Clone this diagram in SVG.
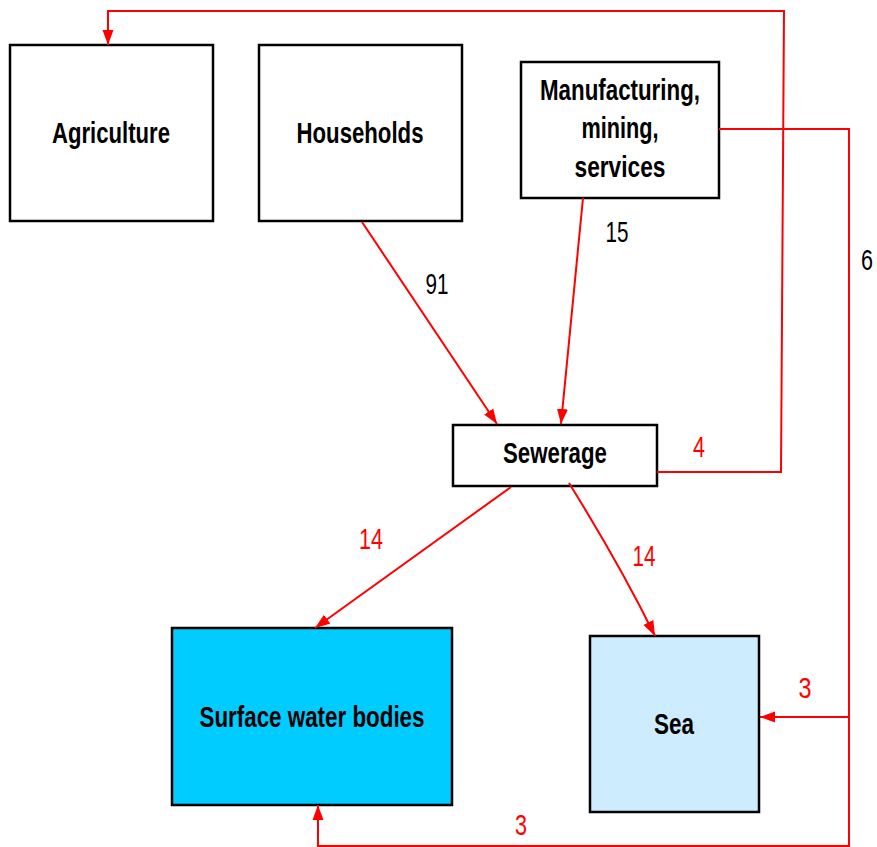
<svg xmlns="http://www.w3.org/2000/svg" width="877" height="847" viewBox="0 0 877 847">
<style>
.box{stroke:#000;stroke-width:2.5}
.lbl{font-family:"Liberation Sans",Arial,sans-serif;font-weight:bold;font-size:29px;fill:#000}
.num{font-family:"Liberation Sans",Arial,sans-serif;font-size:30px}
.red{fill:#ff0000}
.blk{fill:#000}
.con{fill:none;stroke:#ff0000;stroke-width:2}
</style>
<defs>
<marker id="arr" markerUnits="userSpaceOnUse" markerWidth="16" markerHeight="12" refX="15" refY="6" orient="auto">
<path d="M0,0.5 L15,6 L0,11.5 z" fill="#ff0000"/>
</marker>
</defs>
<rect width="877" height="847" fill="#fff"/>
<g id="agriculture">
<rect class="box" x="10" y="45" width="203" height="176" fill="#fff"/>
<text class="lbl" x="111" y="143" text-anchor="middle" textLength="118" lengthAdjust="spacingAndGlyphs">Agriculture</text>
</g>
<g id="households">
<rect class="box" x="259" y="45" width="203" height="176" fill="#fff"/>
<text class="lbl" x="360" y="143" text-anchor="middle" textLength="127" lengthAdjust="spacingAndGlyphs">Households</text>
</g>
<g id="manufacturing">
<rect class="box" x="521" y="62" width="198" height="136" fill="#fff"/>
<text class="lbl" x="620" y="100" text-anchor="middle" textLength="160" lengthAdjust="spacingAndGlyphs">Manufacturing,</text>
<text class="lbl" x="620" y="138" text-anchor="middle" textLength="77" lengthAdjust="spacingAndGlyphs">mining,</text>
<text class="lbl" x="620" y="177" text-anchor="middle" textLength="91" lengthAdjust="spacingAndGlyphs">services</text>
</g>
<g id="sewerage">
<rect class="box" x="453" y="425" width="204" height="61" fill="#fff"/>
<text class="lbl" x="555" y="463" text-anchor="middle" textLength="104" lengthAdjust="spacingAndGlyphs">Sewerage</text>
</g>
<g id="surface">
<rect class="box" x="172" y="628" width="280" height="177" fill="#00ccff"/>
<text class="lbl" x="312" y="727" text-anchor="middle" textLength="225" lengthAdjust="spacingAndGlyphs">Surface water bodies</text>
</g>
<g id="sea">
<rect class="box" x="590" y="636" width="169" height="176" fill="#cdedff"/>
<text class="lbl" x="674" y="734" text-anchor="middle" textLength="40" lengthAdjust="spacingAndGlyphs">Sea</text>
</g>
<g id="connectors">
<path class="con" d="M362,222 L497,424" marker-end="url(#arr)"/>
<path class="con" d="M583,198 L561,424" marker-end="url(#arr)"/>
<path class="con" d="M511,487 L315,628" marker-end="url(#arr)"/>
<path class="con" d="M569,483 Q620,565 655,636" marker-end="url(#arr)"/>
<path class="con" d="M657,472 H781 L784,11 H108 V45" marker-end="url(#arr)"/>
<path class="con" d="M719,129 H849 V846 H318 V805" marker-end="url(#arr)"/>
<path class="con" d="M849,717 H760" marker-end="url(#arr)"/>
</g>
<g id="labels">
<text class="num blk" x="437" y="294" text-anchor="middle" textLength="23" lengthAdjust="spacingAndGlyphs">91</text>
<text class="num blk" x="617" y="242" text-anchor="middle" textLength="23" lengthAdjust="spacingAndGlyphs">15</text>
<text class="num blk" x="867" y="270" text-anchor="middle" textLength="12" lengthAdjust="spacingAndGlyphs">6</text>
<text class="num red" x="699" y="457" text-anchor="middle" textLength="12" lengthAdjust="spacingAndGlyphs">4</text>
<text class="num red" x="371" y="549" text-anchor="middle" textLength="24" lengthAdjust="spacingAndGlyphs">14</text>
<text class="num red" x="644" y="566" text-anchor="middle" textLength="23" lengthAdjust="spacingAndGlyphs">14</text>
<text class="num red" x="805" y="698" text-anchor="middle" textLength="13" lengthAdjust="spacingAndGlyphs">3</text>
<text class="num red" x="521" y="835" text-anchor="middle" textLength="12" lengthAdjust="spacingAndGlyphs">3</text>
</g>
</svg>
